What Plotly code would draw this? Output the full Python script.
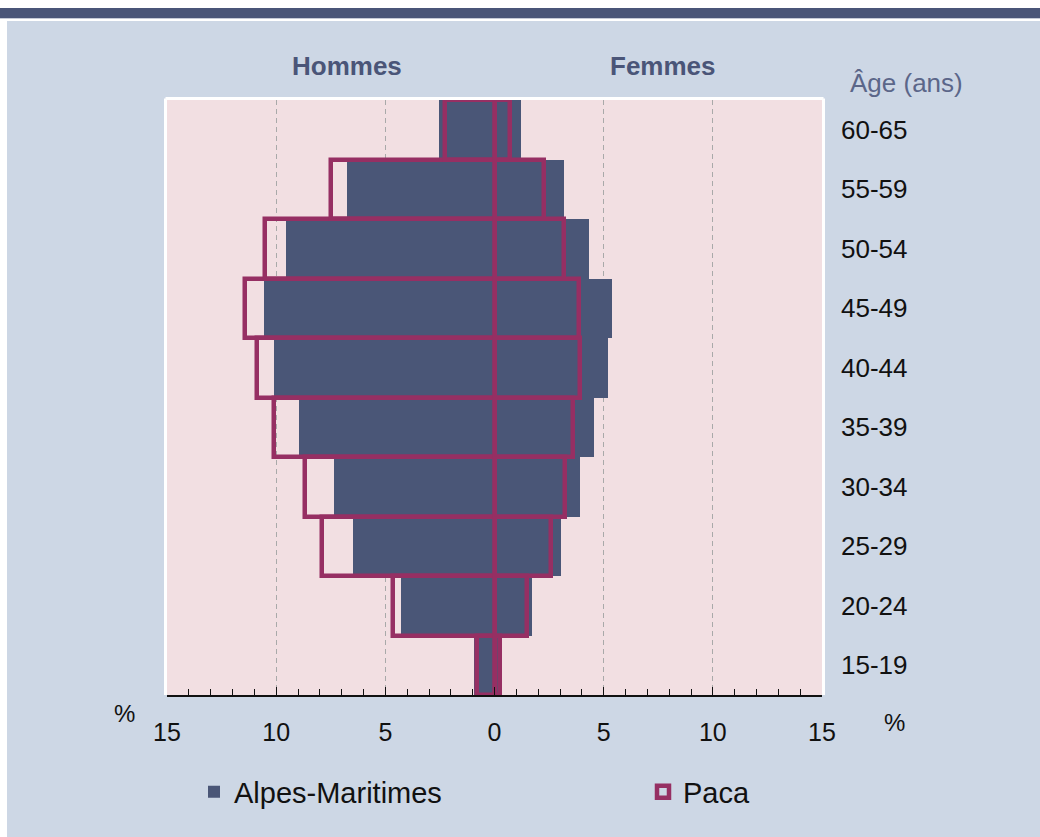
import plotly.graph_objects as go

# ---------------------------------------------------------
# data (percent of population, by age group)
# ---------------------------------------------------------
ages = ["15-19", "20-24", "25-29", "30-34", "35-39",
        "40-44", "45-49", "50-54", "55-59", "60-65"]

am_hommes = [0.96, 4.3, 6.5, 7.35, 8.95, 10.1, 10.55, 9.55, 6.75, 2.55]
am_femmes = [0.35, 1.7, 3.05, 3.9, 4.55, 5.2, 5.4, 4.35, 3.2, 1.2]

paca_hommes = [0.8, 4.65, 7.9, 8.7, 10.1, 10.9, 11.45, 10.5, 7.5, 2.25]
paca_femmes = [0.25, 1.5, 2.6, 3.25, 3.6, 3.9, 3.85, 3.2, 2.25, 0.7]

x_ticks = [-15, -10, -5, 0, 5, 10, 15]

# ---------------------------------------------------------
# colours
# ---------------------------------------------------------
BG = "#cdd7e5"
PLOT_BG = "#f2dfe2"
SLATE = "#4a5677"
PLUM = "#962f63"
HEAD = "#4a5578"
FONT = "Liberation Sans, Arial, sans-serif"

# plot area in pixels
L, R, T, B = 167, 822, 100, 695
W, H = 1040, 837


def px_x(x):
    return (x - L) / (R - L)


def px_y(y):
    return (B - y) / (B - T)


fig = go.Figure()

fig.add_trace(go.Bar(
    y=ages, x=[-v for v in am_hommes], orientation="h",
    name="Alpes-Maritimes", legendgroup="am", legend="legend",
    marker=dict(color=SLATE, line=dict(width=0)),
))
fig.add_trace(go.Bar(
    y=ages, x=am_femmes, orientation="h",
    name="Alpes-Maritimes", legendgroup="am", showlegend=False,
    marker=dict(color=SLATE, line=dict(width=0)),
))
fig.add_trace(go.Bar(
    y=ages, x=[-v for v in paca_hommes], orientation="h",
    name="Paca", legendgroup="paca", legend="legend2",
    marker=dict(color="rgba(0,0,0,0)", line=dict(color=PLUM, width=4.5)),
))
fig.add_trace(go.Bar(
    y=ages, x=paca_femmes, orientation="h",
    name="Paca", legendgroup="paca", showlegend=False,
    marker=dict(color="rgba(0,0,0,0)", line=dict(color=PLUM, width=4.5)),
))

shapes = [
    # top banner
    dict(type="rect", xref="paper", yref="paper",
         x0=px_x(0), x1=px_x(W), y0=px_y(8), y1=px_y(0),
         fillcolor="white", line=dict(width=0), layer="below"),
    dict(type="rect", xref="paper", yref="paper",
         x0=px_x(0), x1=px_x(W), y0=px_y(18.5), y1=px_y(8),
         fillcolor=HEAD, line=dict(width=0), layer="below"),
    dict(type="rect", xref="paper", yref="paper",
         x0=px_x(0), x1=px_x(W), y0=px_y(21), y1=px_y(18.5),
         fillcolor="white", line=dict(width=0), layer="below"),
    dict(type="rect", xref="paper", yref="paper",
         x0=px_x(0), x1=px_x(7), y0=px_y(H), y1=px_y(21),
         fillcolor="white", line=dict(width=0), layer="below"),
    # white frame around the plot area (top, left, right)
    dict(type="line", xref="paper", yref="paper",
         x0=px_x(L - 1.5), x1=px_x(R + 1.5), y0=px_y(T - 1.5), y1=px_y(T - 1.5),
         line=dict(color="white", width=3)),
    dict(type="line", xref="paper", yref="paper",
         x0=px_x(L - 1.5), x1=px_x(L - 1.5), y0=0, y1=px_y(T - 1.5),
         line=dict(color="white", width=3)),
    dict(type="line", xref="paper", yref="paper",
         x0=px_x(R + 1.5), x1=px_x(R + 1.5), y0=0, y1=px_y(T - 1.5),
         line=dict(color="white", width=3)),
]


def label(text, x, y, size, color, bold=False):
    return dict(
        text=f"<b>{text}</b>" if bold else text,
        x=px_x(x), y=px_y(y), xref="paper", yref="paper",
        xanchor="center", yanchor="middle", showarrow=False,
        font=dict(size=size, color=color, family=FONT),
    )


annotations = [
    label("Hommes", 347, 66, 26, HEAD, bold=True),
    label("Femmes", 663, 66, 26, HEAD, bold=True),
    label("Âge (ans)", 906, 83, 26, "#5b6689"),
    label("%", 124, 714, 24, "#111111"),
    label("%", 894, 722, 24, "#111111"),
]

legend_style = dict(
    orientation="h",
    xanchor="left", yanchor="middle",
    font=dict(size=29, color="#111111", family=FONT),
    bgcolor="rgba(0,0,0,0)",
)

fig.update_layout(
    width=W, height=H,
    paper_bgcolor=BG,
    plot_bgcolor=PLOT_BG,
    barmode="overlay",
    bargap=0,
    margin=dict(l=L, r=W - R, t=T, b=H - B),
    font=dict(family=FONT, size=24, color="#111111"),
    shapes=shapes,
    annotations=annotations,
    legend=dict(x=px_x(194), y=px_y(792), **legend_style),
    legend2=dict(x=px_x(643), y=px_y(792), **legend_style),
    xaxis=dict(
        range=[-15, 15],
        tickvals=x_ticks,
        ticktext=[str(abs(v)) for v in x_ticks],
        ticks="inside", ticklen=8, tickwidth=1, tickcolor="#111111",
        minor=dict(dtick=1, ticks="inside", ticklen=6, tickcolor="#111111",
                   showgrid=False),
        showline=True, linecolor="#111111", linewidth=1.5,
        showgrid=True, gridcolor="#a9a9a9", griddash="5px,4px", gridwidth=1,
        zeroline=False,
        ticklabelstandoff=14,
        tickfont=dict(size=25, color="#111111"),
        fixedrange=True,
    ),
    yaxis=dict(
        type="category",
        categoryorder="array", categoryarray=ages,
        side="right",
        ticks="",
        showgrid=False, zeroline=False, showline=False,
        ticklabelstandoff=18,
        tickfont=dict(size=26, color="#111111"),
        fixedrange=True,
    ),
)

fig.write_html(
    "out.html",
    config={"displayModeBar": False},
    post_script="document.body.style.margin = '0';",
)
